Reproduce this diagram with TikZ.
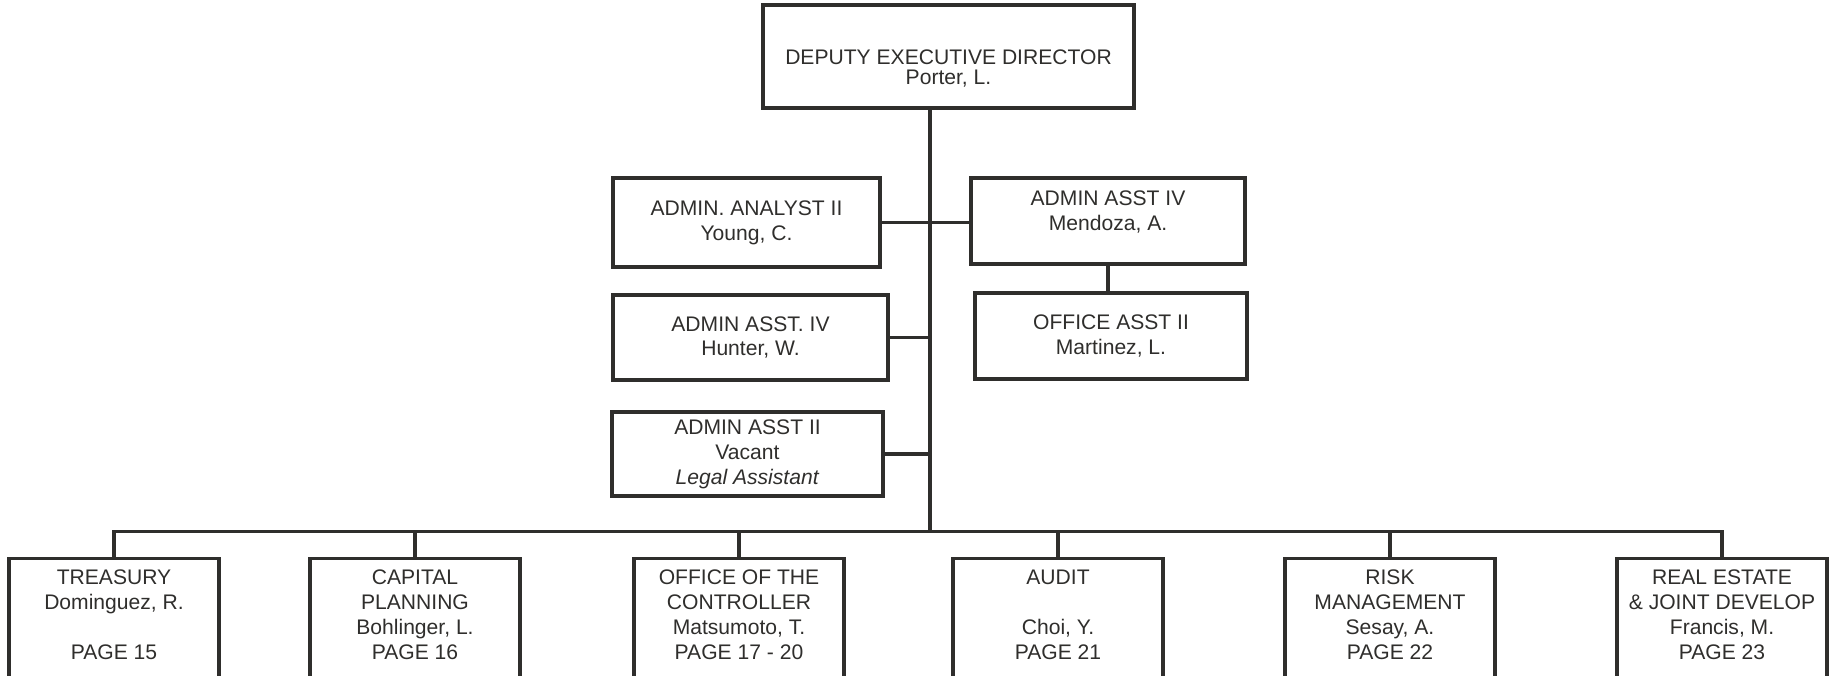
\documentclass[tikz,border=0pt]{standalone}
\usepackage{fontspec}
\setmainfont{Liberation Sans}
\definecolor{ink}{HTML}{2F2E2C}

\begin{document}
\begin{tikzpicture}[
  box/.style={draw=ink, line width=1.9pt, text=ink, align=center, inner sep=0pt, font=\fontsize{12}{14.2}\selectfont},
  staff/.style={box, minimum height=1.72cm},
  dept/.style={box, anchor=north, minimum width=4.2cm, inner ysep=0.22cm},
  link/.style={draw=ink, line width=1.9pt}
]
\useasboundingbox (0,0) rectangle (36.66,-13.52);

\node[box, minimum width=7.42cm, minimum height=2.06cm] (dir) at (18.97,-1.13) {\mbox{}\\[8pt]DEPUTY EXECUTIVE DIRECTOR\\[-3pt]Porter, L.};

\node[staff, minimum width=5.34cm, minimum height=1.78cm] (analyst) at (14.93,-4.45) {ADMIN. ANALYST II\\Young, C.};
\node[staff, minimum width=5.50cm, minimum height=1.70cm] (hunter) at (15.01,-6.75) {ADMIN ASST. IV\\Hunter, W.};
\node[staff, minimum width=5.42cm, minimum height=1.68cm] (legal) at (14.95,-9.08) {ADMIN ASST II\\Vacant\\\textit{Legal Assistant}};
\node[staff, minimum width=5.48cm] (mendoza) at (22.16,-4.42) {ADMIN ASST IV\\Mendoza, A.\\[-2pt]\mbox{}};
\node[staff, minimum width=5.44cm] (office) at (22.22,-6.72) {OFFICE ASST II\\Martinez, L.};

\node[dept] (treasury) at (2.28,-11.14) {TREASURY\\Dominguez, R.\\\mbox{}\\PAGE 15\\\mbox{}};
\node[dept] (capital) at (8.30,-11.14) {CAPITAL\\PLANNING\\Bohlinger, L.\\PAGE 16\\\mbox{}};
\node[dept] (controller) at (14.78,-11.14) {OFFICE OF THE\\CONTROLLER\\Matsumoto, T.\\PAGE 17 - 20\\\mbox{}};
\node[dept] (audit) at (21.16,-11.14) {AUDIT\\\mbox{}\\Choi, Y.\\PAGE 21\\\mbox{}};
\node[dept] (risk) at (27.80,-11.14) {RISK\\MANAGEMENT\\Sesay, A.\\PAGE 22\\\mbox{}};
\node[dept] (realestate) at (34.44,-11.14) {REAL ESTATE\\\& JOINT DEVELOP\\Francis, M.\\PAGE 23\\\mbox{}};

\coordinate (bus) at (18.6,-10.63);

\draw[link] (dir.south -| bus) -- (bus);
\draw[link] (analyst.east) -- (analyst.east -| mendoza.west);
\draw[link] (mendoza.south) -- (mendoza.south |- office.north);
\draw[link] (hunter.east) -- (hunter.east -| bus);
\draw[link] (legal.east) -- (legal.east -| bus);

\draw[link] (treasury.north) -- (treasury.north |- bus) -- (realestate.north |- bus) -- (realestate.north);
\draw[link] (capital.north) -- (capital.north |- bus);
\draw[link] (controller.north) -- (controller.north |- bus);
\draw[link] (audit.north) -- (audit.north |- bus);
\draw[link] (risk.north) -- (risk.north |- bus);
\end{tikzpicture}
\end{document}
